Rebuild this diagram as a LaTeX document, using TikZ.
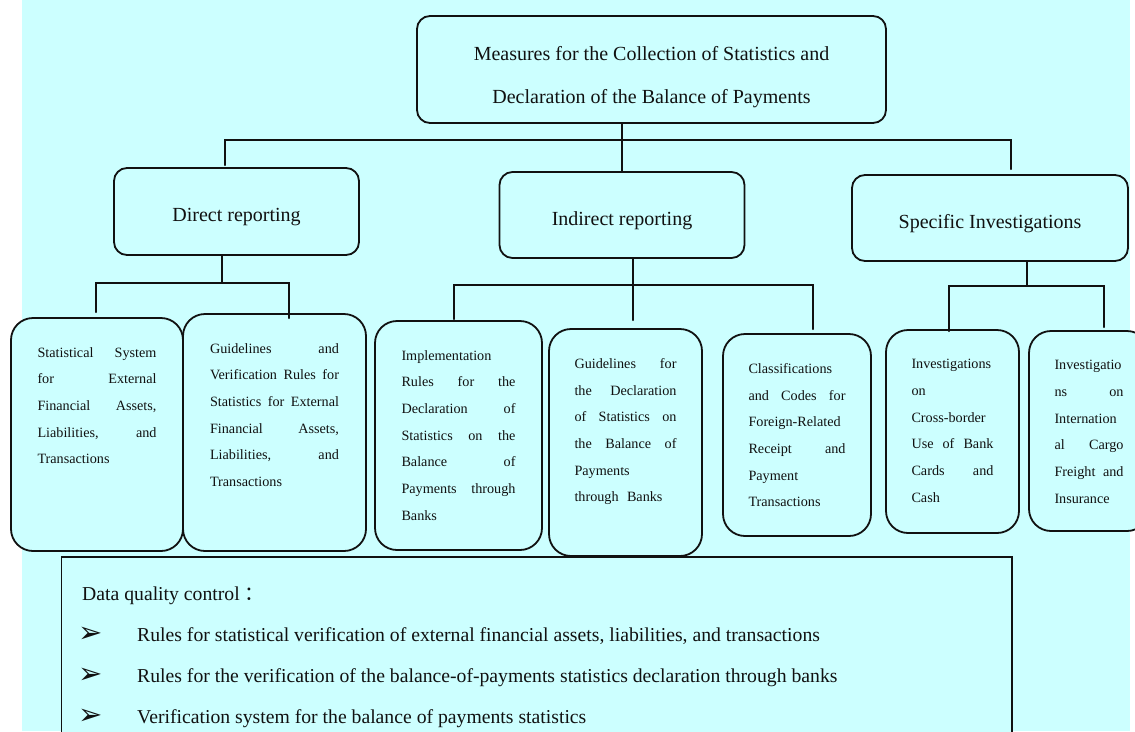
\documentclass[tikz,border=0pt]{standalone}
\usepackage{fontspec}
\setmainfont{Liberation Serif}
\newfontfamily\symfont{DejaVu Sans}
\newfontfamily\cjkfont{Noto Sans CJK SC}
\usepackage{tikz}
\definecolor{bopcyan}{HTML}{CCFFFF}
\definecolor{bopink}{HTML}{111111}
\newcommand{\jline}[2][\jw]{\makebox[#1][s]{\spaceskip=.25em plus 1fil\relax #2}}
\newcommand{\bopbullet}{\makebox[55pt][l]{\hspace{-4pt}\raisebox{-1pt}{\symfont\fontsize{29}{29}\selectfont ➢}}}

\begin{document}
\begin{tikzpicture}[x=1pt, y=-1pt, line cap=round,
  headbox/.style={draw=bopink, fill=bopcyan, line width=1.8pt, rounded corners=13pt, inner sep=0pt},
  headtext/.style={inner sep=0pt, align=center, text=bopink, font=\fontsize{20}{43}\selectfont},
  leafbox/.style={draw=bopink, fill=bopcyan, line width=1.8pt, rounded corners=22pt},
  leaftext/.style={anchor=north, inner sep=0pt, align=left, text=bopink, text width=#1,
    execute at begin node={\def\jw{#1}}, font=\fontsize{14.2}{26.7}\selectfont},
  link/.style={draw=bopink, line width=1.8pt}]
  \useasboundingbox (0,0) rectangle (1135,731);
  \fill[bopcyan] (22,0) rectangle (1130,731);

  % top and the three ways of reporting
  \node[headbox, minimum width=469pt, minimum height=107pt] (top) at (651.5,69.5) {};
  \node[headbox, minimum width=245pt, minimum height=87pt] (direct) at (236.5,211.5) {};
  \node[headbox, minimum width=245pt, minimum height=86pt] (indirect) at (622,215) {};
  \node[headbox, minimum width=276pt, minimum height=86pt] (specific) at (990,218) {};
  \node[headtext] (toptxt) at ([yshift=-8pt]top.center)
    {Measures for the Collection of Statistics and\\Declaration of the Balance of Payments};
  \node[headtext] (directtxt) at ([yshift=-6pt]direct.center) {Direct reporting};
  \node[headtext] (indirecttxt) at ([yshift=-6pt]indirect.center) {Indirect reporting};
  \node[headtext] (specifictxt) at ([yshift=-6pt]specific.center) {Specific Investigations};

  % the seven rule sets
  \node[leafbox, minimum width=172pt, minimum height=233pt] (sys) at (97,434.5) {};
  \node[leafbox, minimum width=183pt, minimum height=237pt] (guide) at (274.5,432.5) {};
  \node[leafbox, minimum width=167pt, minimum height=229pt] (impl) at (458.5,435.5) {};
  \node[leafbox, minimum width=153pt, minimum height=227pt] (decl) at (625.5,442.5) {};
  \node[leafbox, minimum width=148pt, minimum height=202pt] (class) at (797,435) {};
  \node[leafbox, minimum width=133pt, minimum height=203pt] (cross) at (952.5,431.5) {};
  \node[leafbox, minimum width=120pt, minimum height=200pt] (cargo) at (1089,431) {};

  \node[leaftext=119pt] (systxt) at ([yshift=-30pt]sys.north)
    {\jline{Statistical System}\\\jline{for External}\\\jline{Financial Assets,}\\\jline{Liabilities, and}\\Transactions};
  \node[leaftext=129pt] (guidetxt) at ([yshift=-30pt]guide.north)
    {\jline{Guidelines and}\\\jline{Verification Rules for}\\\jline{Statistics for External}\\\jline{Financial Assets,}\\\jline{Liabilities, and}\\Transactions};
  \node[leaftext=114pt] (impltxt) at ([yshift=-30pt]impl.north)
    {Implementation\\\jline{Rules for the}\\\jline{Declaration of}\\\jline{Statistics on the}\\\jline{Balance of}\\\jline{Payments through}\\Banks};
  \node[leaftext=102pt] (decltxt) at ([yshift=-30pt]decl.north)
    {\jline{Guidelines for}\\\jline{the Declaration}\\\jline{of Statistics on}\\\jline{the Balance of}\\Payments\\\jline[88pt]{through Banks}};
  \node[leaftext=97pt] (classtxt) at ([yshift=-30pt]class.north)
    {Classifications\\\jline{and Codes for}\\Foreign-Related\\\jline{Receipt and}\\Payment\\Transactions};
  \node[leaftext=82pt] (crosstxt) at ([yshift=-30pt]cross.north)
    {Investigations\\on\\Cross-border\\\jline{Use of Bank}\\\jline{Cards and}\\Cash};
  \node[leaftext=69pt] (cargotxt) at ([yshift=-30pt]cargo.north)
    {Investigatio\\\jline{ns on}\\Internation\\\jline{al Cargo}\\\jline{Freight and}\\Insurance};

  % connectors
  \coordinate (bus0) at (622,140);
  \coordinate (busd) at (222,283);
  \coordinate (busi) at (633,285);
  \coordinate (buss) at (1027,286);
  \draw[link] (top.south -| indirect.north) -- (indirect.north);
  \draw[link] ([xshift=-11.5pt,yshift=2pt]direct.north) |- (bus0) -| ([xshift=21pt,yshift=5pt]specific.north);
  \draw[link] ([xshift=-14.5pt]direct.south) -- (busd);
  \draw[link] ([xshift=-1pt,yshift=5pt]sys.north) |- (busd) -| ([xshift=14.5pt,yshift=-5pt]guide.north);
  \draw[link] ([xshift=11pt]indirect.south) -- ([xshift=7.5pt,yshift=8pt]decl.north);
  \draw[link] ([xshift=-4.5pt,yshift=1pt]impl.north) |- (busi) -| ([xshift=16pt,yshift=4pt]class.north);
  \draw[link] ([xshift=37pt]specific.south) -- (buss);
  \draw[link] ([xshift=-3.5pt,yshift=-2pt]cross.north) |- (buss) -| ([xshift=15pt,yshift=3pt]cargo.north);

  % data quality control
  \node[draw=bopink, line width=1.8pt, fill=bopcyan, anchor=north west, inner sep=0pt,
    minimum width=950.5pt, minimum height=200pt] (dq) at (60.5,556) {};
  \node[anchor=north west, inner sep=0pt, align=left, text=bopink,
    font=\fontsize{19.7}{41}\selectfont] (dqtxt) at ([xshift=21.5pt,yshift=-31pt]dq.north west)
    {Data quality control\hspace{5pt}{\cjkfont ：}\\
     \bopbullet Rules for statistical verification of external financial assets, liabilities, and transactions\\
     \bopbullet Rules for the verification of the balance-of-payments statistics declaration through banks\\
     \bopbullet Verification system for the balance of payments statistics};
\end{tikzpicture}
\end{document}
